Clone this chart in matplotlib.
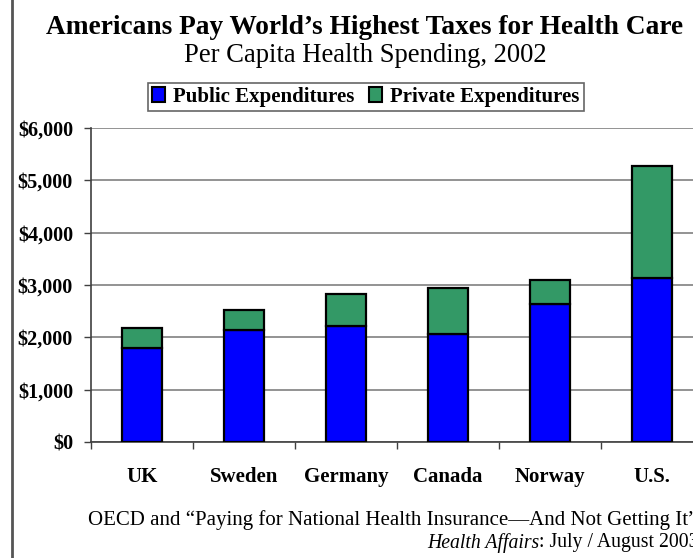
import matplotlib.pyplot as plt
import numpy as np
from matplotlib.lines import Line2D
from matplotlib.patches import Patch

countries = ["UK", "Sweden", "Germany", "Canada", "Norway", "U.S."]
public_spend = [1796, 2140, 2223, 2070, 2637, 3140]
total_spend = [2184, 2522, 2828, 2949, 3102, 5280]
private_spend = [t - p for t, p in zip(total_spend, public_spend)]
y_ticks = [0, 1000, 2000, 3000, 4000, 5000, 6000]

BLUE = "#0000FF"
GREEN = "#339966"

plt.rcParams["font.family"] = ["Liberation Serif", "DejaVu Serif"]

fig = plt.figure(figsize=(6.93, 5.58), dpi=100)
W, H = 693, 558

# axes extends past the right edge, as in the cropped original
ax = fig.add_axes([91 / W, (H - 442) / H, 612 / W, 314 / H])
x = np.arange(len(countries))
ax.bar(x, public_spend, width=0.4, color=BLUE, edgecolor="black", linewidth=1.6, zorder=3)
ax.bar(x, private_spend, bottom=public_spend, width=0.4, color=GREEN,
       edgecolor="black", linewidth=1.6, zorder=3)

ax.set_xlim(-0.5, len(countries) - 0.5)
ax.set_ylim(0, 6000)
ax.set_yticks(y_ticks)
ax.set_yticklabels([f"${v:,}" for v in y_ticks], fontweight="bold", fontsize=14.5)
ax.yaxis.grid(True, color="#808080", linewidth=1.2, zorder=0)
ax.set_axisbelow(True)

ax.set_xticks(x)
ax.set_xticklabels(countries, fontweight="bold", fontsize=15)
ax.tick_params(axis="x", length=0, pad=18)
ax.set_xticks(np.arange(len(countries) + 1) - 0.5, minor=True)
ax.tick_params(axis="x", which="minor", length=5, width=1, color="#404040")
ax.tick_params(axis="y", length=5, width=1, color="#404040", pad=8)

for s in ("top", "right"):
    ax.spines[s].set_visible(False)
for s in ("left", "bottom"):
    ax.spines[s].set_color("#404040")
    ax.spines[s].set_linewidth(1.2)

fig.text(365 / W, 1 - 27 / H, "Americans Pay World\u2019s Highest Taxes for Health Care",
         ha="center", va="center", fontsize=19.7, fontweight="bold")
fig.text(365 / W, 1 - 55 / H, "Per Capita Health Spending, 2002",
         ha="center", va="center", fontsize=19.2)

handles = [Patch(facecolor=BLUE, edgecolor="black", linewidth=1.5),
           Patch(facecolor=GREEN, edgecolor="black", linewidth=1.5)]
leg = fig.legend(handles, ["Public Expenditures", "Private Expenditures"],
                 loc="center", bbox_to_anchor=(366 / W, 1 - 97 / H), ncol=2,
                 frameon=True, fancybox=False, edgecolor="#404040",
                 prop={"weight": "bold", "size": 15},
                 handlelength=0.6, handleheight=0.7, handletextpad=0.4,
                 columnspacing=0.7, borderpad=0.2, borderaxespad=0)
leg.get_frame().set_linewidth(1.2)

fig.text(88 / W, 1 - 520 / H,
         "OECD and \u201cPaying for National Health Insurance\u2014And Not Getting It\u201d",
         ha="left", va="center", fontsize=15)
t1 = fig.text(427 / W, 1 - 543 / H, "Health Affairs", ha="left", va="center",
              fontsize=14.2, style="italic")
ax.annotate(": July / August 2003", xy=(1, 0.5), xycoords=t1, ha="left", va="center",
            fontsize=14.2, annotation_clip=False)

fig.add_artist(Line2D([12 / W, 12 / W], [0, 1], color="#555555", linewidth=2))

fig.savefig("out.png", dpi=100)
